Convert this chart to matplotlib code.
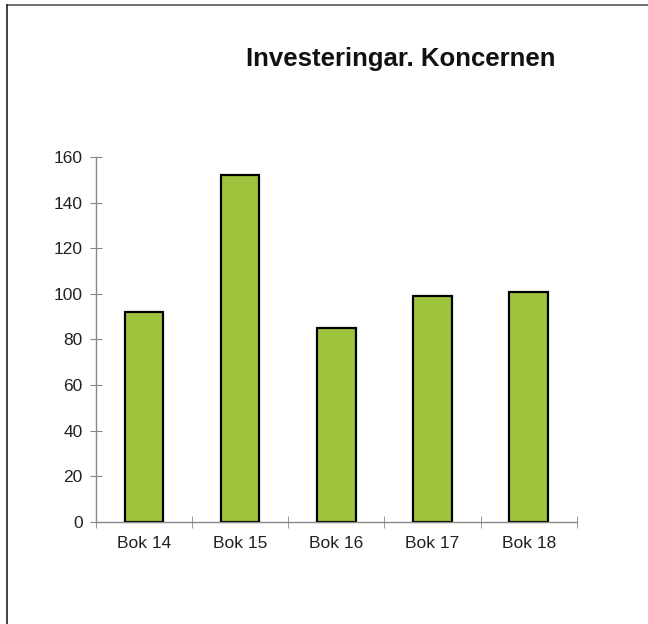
import numpy as np
import matplotlib.pyplot as plt
from matplotlib.lines import Line2D

# data
kategorier = ["Bok 14", "Bok 15", "Bok 16", "Bok 17", "Bok 18"]
varden = [92, 152, 85, 99, 101]
y_ticks = [0, 20, 40, 60, 80, 100, 120, 140, 160]

plt.rcParams['font.family'] = ['Liberation Sans', 'DejaVu Sans']

fig = plt.figure(figsize=(6.48, 6.24), dpi=100)
ax = fig.add_axes([0.148, 0.1635, 0.742, 0.585])

x = np.arange(len(kategorier))
ax.bar(x, varden, width=0.4, color='#9dc43c', edgecolor='black', linewidth=1.6)

ax.set_xlim(-0.5, len(kategorier) - 0.5)
ax.set_ylim(0, 160)
ax.set_yticks(y_ticks)
ax.set_xticks(x)
ax.set_xticklabels(kategorier)
# small ticks between the categories
ax.set_xticks(np.arange(len(kategorier) + 1) - 0.5, minor=True)
ax.tick_params(axis='x', which='major', length=0, pad=10, labelsize=12.5, colors='#222222')
ax.tick_params(axis='x', which='minor', direction='inout', length=9, color='#888888')
ax.tick_params(axis='y', direction='inout', length=9, color='#888888', pad=5,
               labelsize=12.5, labelcolor='#222222')

for s in ['top', 'right']:
    ax.spines[s].set_visible(False)
for s in ['left', 'bottom']:
    ax.spines[s].set_color('#888888')
    ax.spines[s].set_linewidth(1.0)

fig.text(0.619, 0.905, "Investeringar. Koncernen", ha='center', va='center',
         fontsize=18.5, fontweight='bold', color='#111111')

# frame lines top and left
fig.add_artist(Line2D([7 / 648, 1], [1 - 5 / 624, 1 - 5 / 624], color='#555555', lw=1.2))
fig.add_artist(Line2D([7 / 648, 7 / 648], [0, 1 - 5 / 624], color='#222222', lw=1.2))

fig.savefig("out.png", dpi=100)
